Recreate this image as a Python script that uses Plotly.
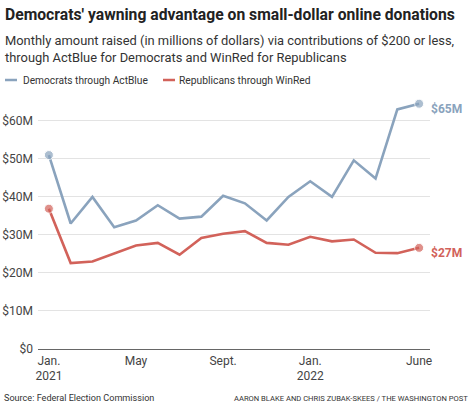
import plotly.graph_objects as go

months = list(range(18))  # Jan 2021 .. June 2022
dem_values = [51, 33, 40, 32, 33.8, 37.8, 34.3, 34.8, 40.3, 38.3, 33.8, 40, 44.1, 40, 49.6, 44.8, 63, 64.5]
rep_values = [36.9, 22.6, 23, 25.1, 27.2, 27.9, 24.8, 29.2, 30.3, 31.0, 27.9, 27.4, 29.5, 28.3, 28.8, 25.3, 25.2, 26.6]
series_names = ["Democrats through ActBlue", "Republicans through WinRed"]
end_labels = ["$65M", "$27M"]
x_tickvals = [0, 4, 8, 12, 17]
x_ticktext = ["Jan.<br>2021", "May", "Sept.", "Jan.<br>2022", "June"]
y_tickvals = [0, 10, 20, 30, 40, 50, 60]
y_ticktext = ["$0", "$10M", "$20M", "$30M", "$40M", "$50M", "$60M"]

BLUE = "#8aa3bd"
RED = "#d2625a"
FONT = "Roboto"

W, H = 474, 409
L, R, T, B = 38, 44, 98, 60
PW, PH = W - L - R, H - T - B


def px(x):
    return (x - L) / PW


def py(y):
    return (H - B - y) / PH


fig = go.Figure()
for vals, name, col in [(dem_values, series_names[0], BLUE), (rep_values, series_names[1], RED)]:
    sizes = [9 if i in (0, len(vals) - 1) else 0 for i in range(len(vals))]
    fig.add_trace(go.Scatter(
        x=months, y=vals, name=name, mode="lines+markers",
        line=dict(color=col, width=2.6),
        marker=dict(color=col, size=sizes),
        showlegend=False, hoverinfo="skip",
    ))

annotations = [
    dict(text="<b>Democrats' yawning advantage on small-dollar online donations</b>",
         x=px(3), y=py(14), xref="paper", yref="paper", xanchor="left", yanchor="middle",
         showarrow=False, font=dict(family=FONT, size=15.7, color="#222")),
    dict(text="Monthly amount raised (in millions of dollars) via contributions of $200 or less,",
         x=px(3), y=py(41), xref="paper", yref="paper", xanchor="left", yanchor="middle",
         showarrow=False, font=dict(family=FONT, size=12.9, color="#333")),
    dict(text="through ActBlue for Democrats and WinRed for Republicans",
         x=px(3), y=py(58), xref="paper", yref="paper", xanchor="left", yanchor="middle",
         showarrow=False, font=dict(family=FONT, size=12.9, color="#333")),
    dict(text=series_names[0], x=px(21), y=py(80), xref="paper", yref="paper",
         xanchor="left", yanchor="middle", showarrow=False,
         font=dict(family=FONT, size=10.2, color="#333")),
    dict(text=series_names[1], x=px(177), y=py(80), xref="paper", yref="paper",
         xanchor="left", yanchor="middle", showarrow=False,
         font=dict(family=FONT, size=10.3, color="#333")),
    dict(text="Source: Federal Election Commission", x=px(2), y=py(398), xref="paper", yref="paper",
         xanchor="left", yanchor="middle", showarrow=False,
         font=dict(family=FONT, size=9.1, color="#333")),
    dict(text="AARON BLAKE AND CHRIS ZUBAK-SKEES / THE WASHINGTON POST", x=px(470), y=py(398),
         xref="paper", yref="paper", xanchor="right", yanchor="middle", showarrow=False,
         font=dict(family=FONT, size=7.6, color="#333")),
]
for vals, lab, col in [(dem_values, end_labels[0], BLUE), (rep_values, end_labels[1], RED)]:
    annotations.append(dict(text=f"<b>{lab}</b>", x=months[-1], y=vals[-1], xref="x", yref="y",
                            xanchor="left", yanchor="middle", xshift=10, yshift=-5, showarrow=False,
                            font=dict(family=FONT, size=12, color=col)))

shapes = [
    dict(type="line", xref="paper", yref="paper", x0=px(5), x1=px(17), y0=py(80), y1=py(80),
         line=dict(color=BLUE, width=2.5)),
    dict(type="line", xref="paper", yref="paper", x0=px(163), x1=px(175), y0=py(80), y1=py(80),
         line=dict(color=RED, width=2.5)),
]

fig.update_layout(
    template="none",
    width=W, height=H, margin=dict(l=L, r=R, t=T, b=B, autoexpand=False),
    paper_bgcolor="white", plot_bgcolor="white",
    font=dict(family=FONT, size=12, color="#444"),
    annotations=annotations, shapes=shapes, showlegend=False,
    xaxis=dict(range=[-0.5, 17.5], tickvals=x_tickvals, ticktext=x_ticktext, automargin=False,
               showgrid=False, zeroline=False, showline=True, linecolor="#666", linewidth=1.2,
               ticks="", tickfont=dict(size=12, color="#444"), fixedrange=True),
    yaxis=dict(range=[0, 66], tickvals=y_tickvals, ticktext=y_ticktext, automargin=False,
               showgrid=True, gridcolor="#e3e3e3", gridwidth=1, zeroline=False, showline=False,
               ticks="", ticklabelstandoff=4, tickfont=dict(size=12, color="#444"), fixedrange=True),
)

fig.write_html("out.html", config={"displayModeBar": False},
               post_script="document.body.style.margin='0';")
